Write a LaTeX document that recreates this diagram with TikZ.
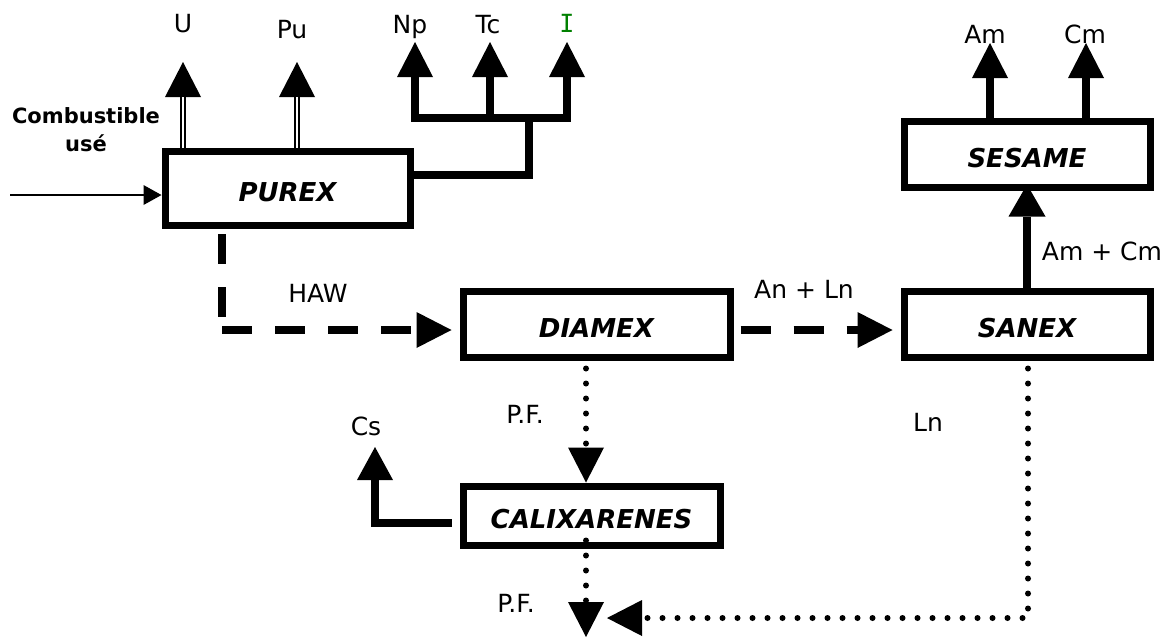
\documentclass[tikz,border=0pt]{standalone}
\usepackage{fontspec}
\setmainfont{DejaVu Sans}
\newfontfamily\monofnt{DejaVu Sans Mono}
\usetikzlibrary{arrows.meta,calc}
\definecolor{igreen}{RGB}{0,128,0}
\tikzset{
  BigT/.tip={Triangle[length=35pt,width=36pt,line width=0pt]},
  box/.style={draw, line width=7pt, inner sep=0pt,
    font=\fontsize{26}{30}\selectfont\bfseries\itshape, text height=26pt, text depth=0pt},
  lbl/.style={anchor=base, inner sep=0pt, font=\fontsize{25}{30}\selectfont},
  thk/.style={line width=8pt},
  dsh/.style={line width=8.5pt, dash pattern=on 30pt off 23pt},
  dotl/.style={line width=6pt, line cap=round, dash pattern=on 0pt off 15pt},
}
\begin{document}
\begin{tikzpicture}[x=1pt,y=-1pt]
\useasboundingbox (0,0) rectangle (1172,638);

% boxes
\node[box, minimum width=245pt, minimum height=74pt] (purex) at (287.5,188) {PUREX};
\node[box, minimum width=246pt, minimum height=66pt] (sesame) at (1027,154) {SESAME};
\node[box, minimum width=246pt, minimum height=66pt] (sanex) at (1027,324) {SANEX};
\node[box, minimum width=267pt, minimum height=66pt] (diamex) at (596.5,324) {DIAMEX};
\node[box, minimum width=257pt, minimum height=59pt] (calix) at (591.5,515.5) {CALIXARENES};

% labels
\node[lbl] (U) at (183,32) {U};
\node[lbl] (Pu) at (292,38) {Pu};
\node[lbl] (Np) at (410,33) {Np};
\node[lbl] (Tc) at (488,33) {Tc};
\node[lbl, text=igreen, font=\fontsize{25}{30}\monofnt] (I) at (567,32) {I};
\node[lbl] (Am) at (985,43) {Am};
\node[lbl] (Cm) at (1085,43) {Cm};
\node[lbl] (haw) at (318,302) {HAW};
\node[lbl] (anln) at (804,298) {An + Ln};
\node[lbl] (amcm) at (1102,260) {Am + Cm};
\node[lbl] (ln) at (928,431) {Ln};
\node[lbl] (pf1) at (525,423) {P.F.};
\node[lbl] (pf2) at (516,612) {P.F.};
\node[lbl] (cs) at (366,435) {Cs};
\node[font=\fontsize{21}{28}\selectfont\bfseries, align=center, inner sep=0pt] (comb) at (86,130) {Combustible\\usé};

% coordinates
\coordinate (in) at (10,195);
\coordinate (Ut) at (183,62);
\coordinate (Put) at (297,62);
\coordinate (Npt) at (415,42);
\coordinate (Tct) at (490,42);
\coordinate (It) at (567,42);
\coordinate (Amt) at (990,43);
\coordinate (Cmt) at (1086,43);
\coordinate (pe) at (413,175);
\coordinate (j1) at (529,118);
\coordinate (h0) at (222,234);
\coordinate (hc) at (222,330);
\coordinate (xl) at (586,0);
\coordinate (outt) at (586,637);
\coordinate (sn) at (1028,618);
\coordinate (lnt) at (607,618);
\coordinate (cst) at (375,447);

% input
\draw[line width=1.5pt, -{Triangle[length=18pt,width=20pt,line width=0pt]}] (in) -- (in -| purex.west);

% U and Pu (double lines)
\foreach \t in {Ut,Put}{
  \draw[line width=6pt, -BigT] (purex.north -| \t) -- (\t);
  \draw[white, line width=2.5pt, shorten >=35pt] (purex.north -| \t) -- (\t);
}

% Np, Tc, I
\draw[thk] (purex.east |- pe) -- (pe -| j1) -- (j1);
\draw[thk, line cap=rect] (Npt |- j1) -- (It |- j1);
\foreach \t in {Npt,Tct,It}{
  \draw[thk, -BigT] (\t |- j1) -- (\t);
}

% SESAME outputs
\draw[thk, -BigT] (sesame.north -| Amt) -- (Amt);
\draw[thk, -BigT] (sesame.north -| Cmt) -- (Cmt);

% SANEX -> SESAME
\draw[thk, -{Triangle[length=32pt,width=37pt,line width=0pt]}, shorten >=-6pt] (sanex.north) -- (sesame.south);

% PUREX -> DIAMEX
\draw[dsh] (h0) -- (hc);
\draw[dsh, -BigT, shorten >=8pt] (hc) -- (hc -| diamex.west);

% DIAMEX -> SANEX
\draw[dsh, -BigT] ($(diamex.east)+(7,6)$) -- ($(sanex.west)+(-8,6)$);

% DIAMEX -> CALIXARENES
\draw[dotl, -BigT] ($(diamex.south -| xl)+(0,8)$) -- (calix.north -| xl);

% CALIXARENES -> out
\draw[dotl, -BigT] ($(calix.south -| xl)+(0,-8)$) -- (outt);

% SANEX -> out
\draw[dotl, -BigT] ($(sanex.south)+(1,8)$) -- (sn) -- (lnt);

% Cs
\draw[thk, -{Triangle[length=33pt,width=36pt,line width=0pt]}] ($(calix.west)+(-8,7)$) -| (cst);
\end{tikzpicture}
\end{document}
